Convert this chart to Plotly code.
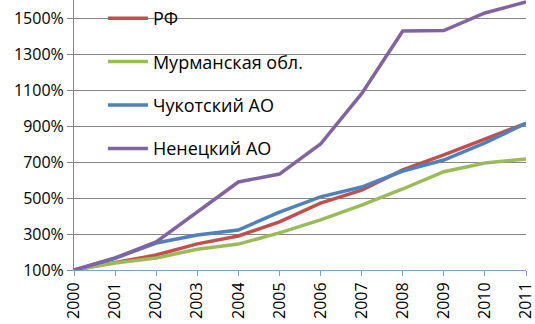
import plotly.graph_objects as go

years = [str(y) for y in range(2000, 2012)]
rf = [100, 143, 183, 245, 289, 367, 472, 544, 656, 739, 828, 915]
murmansk = [100, 139, 167, 215, 244, 306, 378, 461, 550, 646, 694, 717]
chukotka = [100, 165, 250, 294, 322, 422, 506, 561, 650, 711, 806, 915]
nenets = [100, 167, 256, 422, 589, 633, 800, 1080, 1428, 1430, 1528, 1589]

names = ["РФ", "Мурманская обл.", "Чукотский АО", "Ненецкий АО"]
colors = ["#C0504D", "#9BBB59", "#4F81BD", "#8064A2"]
series = [rf, murmansk, chukotka, nenets]

fig = go.Figure()
for i, (nm, col, vals) in enumerate(zip(names, colors, series)):
    fig.add_trace(go.Scatter(x=years, y=vals, mode="lines", name=nm,
                             legendgroup=f"g{i}",
                             line=dict(color=col, width=3.5)))

font = dict(family="Open Sans, sans-serif", size=16, color="#000000")
lfont = dict(family="Open Sans, sans-serif", size=18, color="#000000")
fig.update_layout(
    width=535, height=324,
    margin=dict(l=74, r=9, t=0, b=54),
    paper_bgcolor="white", plot_bgcolor="white",
    font=font,
    showlegend=True,
    legend=dict(x=0.064, y=1.0, xanchor="left", yanchor="top",
                bgcolor="rgba(0,0,0,0)", font=lfont, tracegroupgap=17,
                itemwidth=40),
    xaxis=dict(type="category", tickangle=-90, showgrid=False,
               showline=True, linecolor="#7F9FC8", linewidth=1,
               ticks="outside", ticklen=5, tickcolor="#7F9FC8",
               tickfont=font, range=[0, 11], zeroline=False,
               automargin=False),
    yaxis=dict(range=[100, 1600], tick0=100, dtick=200, ticksuffix="%",
               showgrid=True, gridcolor="#868686", gridwidth=1,
               showline=True, linecolor="#868686", linewidth=1,
               ticks="outside", ticklen=6, tickcolor="#868686",
               tickfont=font, zeroline=False, automargin=False),
)

fig.write_html("out.html", config={"displayModeBar": False},
               post_script="document.body.style.margin='0';document.body.style.overflow='hidden';")
